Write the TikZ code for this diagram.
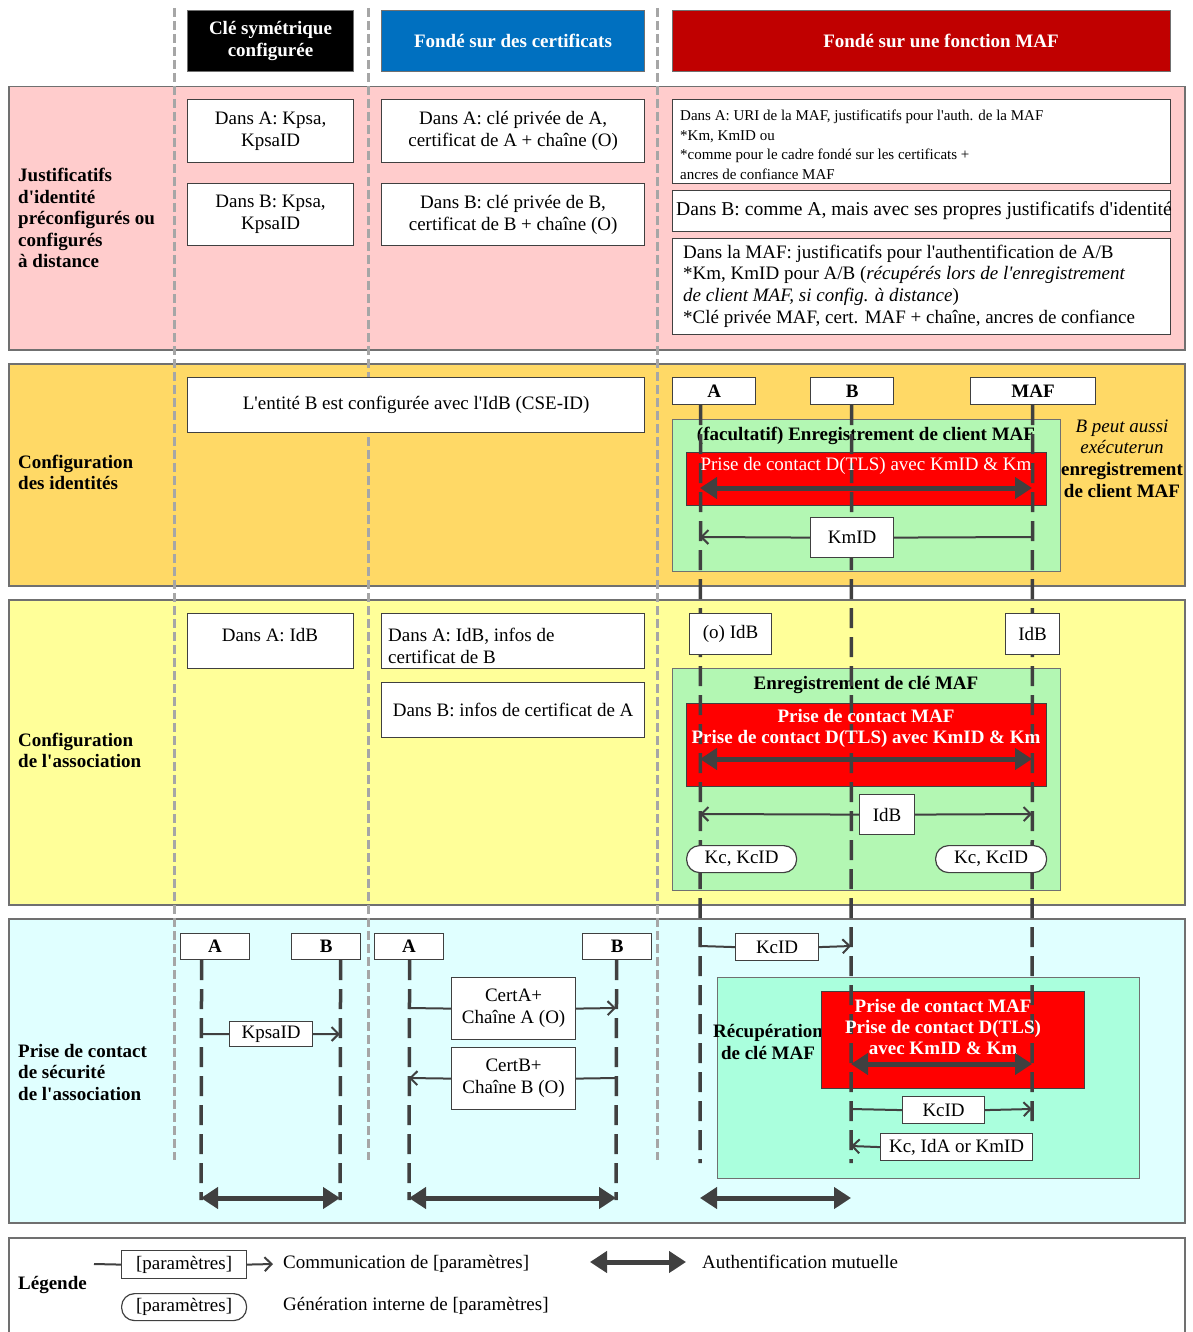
\documentclass[tikz,border=0pt]{standalone}
\usepackage{fontspec}
\setmainfont{Liberation Serif}[Ligatures=TeXOff]
\usetikzlibrary{arrows.meta}

\newcommand{\bodyfont}{\fontsize{19}{22}\selectfont}
\newcommand{\smallbody}{\fontsize{15}{19.5}\selectfont}
\newcommand{\labelfont}{\fontsize{19}{21.5}\selectfont}

\definecolor{pinkbg}{HTML}{FFCCCC}
\definecolor{orangebg}{HTML}{FFD966}
\definecolor{yellowbg}{HTML}{FFFF99}
\definecolor{cyanbg}{HTML}{E0FFFF}
\definecolor{greenA}{HTML}{B3F7B3}
\definecolor{greenB}{HTML}{AAFFDD}
\definecolor{hdrred}{HTML}{C00000}
\definecolor{hdrblue}{HTML}{0070C0}
\definecolor{msgred}{HTML}{FF0000}
\definecolor{ink}{HTML}{404040}
\definecolor{sepgray}{HTML}{A6A6A6}
\definecolor{edge}{HTML}{707070}

% box given by its top-left and bottom-right corners
\newcommand{\placebox}[7]{%
  \node[#6, anchor=north west, inner sep=0pt,
        minimum width={(#4-#2)*1pt}, minimum height={(#5-#3)*1pt}] (#1) at (#2,#3) {#7};}

\tikzset{
  every node/.style={font=\bodyfont},
  section/.style={draw=edge, line width=1.5pt},
  hdr/.style={draw=edge, line width=1pt, text=white, font=\bodyfont\bfseries, align=center},
  hdrtext/.style={text=white, font=\bodyfont\bfseries, inner sep=0pt},
  wbox/.style={draw=ink, line width=1.2pt, fill=white, align=center},
  headbox/.style={wbox, font=\bodyfont\bfseries},
  roundbox/.style={wbox, rounded corners=13pt},
  greenbox/.style={draw=edge, line width=1.2pt},
  redbox/.style={draw=ink, line width=1.2pt, fill=msgred},
  seclabel/.style={anchor=west, align=left, font=\labelfont\bfseries, inner sep=0pt},
  boxtitle/.style={font=\bodyfont\bfseries, inner sep=0pt},
  redtext/.style={text=white, align=center, inner sep=0pt},
  note/.style={anchor=west, align=left, inner sep=0pt},
  sep/.style={draw=sepgray, line width=3pt, dash pattern=on 9pt off 4pt},
  life/.style={draw=ink, line width=3.5pt, dash pattern=on 20pt off 9pt},
  msgline/.style={draw=ink, line width=2pt},
  msg/.style={msgline, -{Straight Barb[length=7pt,width=14pt]}},
  mutual/.style={draw=ink, line width=5pt,
     {Triangle[length=17pt,width=21pt]}-{Triangle[length=17pt,width=21pt]}},
}

\begin{document}
\begin{tikzpicture}[x=1pt,y=-1pt]
\useasboundingbox (0,0) rectangle (1192,1332);

% ---------- row bands ----------
\placebox{secCred}{8}{86}{1184}{349}{section, fill=pinkbg}{}
\placebox{secIdent}{8}{363}{1184}{585}{section, fill=orangebg}{}
\placebox{secAssoc}{8}{599}{1184}{904}{section, fill=yellowbg}{}
\placebox{secHand}{8}{918}{1184}{1222}{section, fill=cyanbg}{}
\placebox{secLegend}{8}{1237}{1184}{1345}{section, fill=white}{}

% ---------- column separators ----------
\foreach \x in {174,368,657}{\draw[sep] (\x,8) -- (\x,1160);}

% ---------- column headers ----------
\placebox{hSym}{187}{10}{353}{71}{hdr, fill=black}{Clé symétrique\\configurée}
\placebox{hCert}{381}{10}{644}{71}{hdr, fill=hdrblue}{Fondé sur des certificats}
\placebox{hMaf}{672}{10}{1170}{71}{hdr, fill=hdrred}{}
\node[hdrtext] (hMafLbl) at (941,41) {Fondé sur une fonction MAF};

% ---------- row labels ----------
\node[seclabel] (lCred) at (18,218) {Justificatifs\\d'identité\\préconfigurés ou\\configurés\\à distance};
\node[seclabel] (lIdent) at (18,472.5) {Configuration\\des identités};
\node[seclabel] (lAssoc) at (18,750.5) {Configuration\\de l'association};
\node[seclabel] (lHand) at (18,1072) {Prise de contact\\de sécurité\\de l'association};
\node[seclabel] (lLeg) at (18,1285) {Légende};

% ---------- credentials ----------
\placebox{credSymA}{187}{99}{353}{162}{wbox}{Dans A: Kpsa,\\KpsaID}
\placebox{credSymB}{187}{183}{353}{245}{wbox}{Dans B: Kpsa,\\KpsaID}
\placebox{credCertA}{381}{99}{644}{162}{wbox}{Dans A: clé privée de A,\\certificat de A + chaîne (O)}
\placebox{credCertB}{381}{183}{644}{245}{wbox}{Dans B: clé privée de B,\\certificat de B + chaîne (O)}
\placebox{credMafA}{672}{99}{1170}{183}{wbox}{}
\node[note, font=\smallbody] (credMafAtxt) at (680,145) {Dans A: URI de la MAF, justificatifs pour l'auth. de la MAF\\{}*Km, KmID ou\\{}*comme pour le cadre fondé sur les certificats +\\ancres de confiance MAF};
\placebox{credMafB}{672}{190}{1170}{231}{wbox}{}
\node[note, font=\fontsize{19.6}{22}\selectfont] (credMafBtxt) at (676,210.5) {Dans B: comme A, mais avec ses propres justificatifs d'identité};
\placebox{credMafM}{672}{238}{1170}{334}{wbox}{}
\node[note, font=\fontsize{19}{21.7}\selectfont] (credMafMtxt) at (683,286) {Dans la MAF: justificatifs pour l'authentification de A/B\\{}*Km, KmID pour A/B (\textit{récupérés lors de l'enregistrement}\\\textit{de client MAF, si config. à distance})\\{}*Clé privée MAF, cert. MAF + chaîne, ancres de confiance};

% ---------- identity configuration ----------
\placebox{identB}{187}{377}{644}{432}{wbox}{L'entité B est configurée avec l'IdB (CSE-ID)}
\node[align=center, inner sep=0pt, font=\fontsize{19}{21.7}\selectfont] (identNote) at (1122,458.5)
  {\textit{B peut aussi}\\\textit{exécuterun}\\\textbf{enregistrement}\\\textbf{de client MAF}};

% ---------- association configuration ----------
\placebox{assocSym}{187}{613}{353}{668}{wbox}{}
\node[inner sep=0pt] (assocSymTxt) at (270,635) {Dans A: IdB};
\placebox{assocCertA}{381}{613}{644}{668}{wbox}{}
\node[note] (assocCertAtxt) at (388,645.5) {Dans A: IdB, infos de\\certificat de B};
\placebox{assocCertB}{381}{682}{644}{737}{wbox}{Dans B: infos de certificat de A}

% ---------- MAF column: grouped exchanges ----------
\placebox{regClient}{672}{419}{1060}{571}{greenbox, fill=greenA}{}
\node[boxtitle] (regClientT) at (866,436) {(facultatif) Enregistrement de client MAF};
\placebox{regClientTLS}{686}{452}{1046}{505}{redbox}{}

\placebox{regKey}{672}{668}{1060}{890}{greenbox, fill=greenA}{}
\node[boxtitle] (regKeyT) at (866,685) {Enregistrement de clé MAF};
\placebox{regKeyTLS}{686}{703}{1046}{786}{redbox}{}

\placebox{keyRet}{717}{977}{1139}{1178}{greenbox, fill=greenB}{}
\node[boxtitle, align=center] (keyRetT) at (768,1042) {Récupération\\de clé MAF};
\placebox{keyRetTLS}{821}{991}{1084}{1088}{redbox}{}

% ---------- lifeline heads ----------
\placebox{hA}{672}{377}{755}{404}{headbox}{A}
\placebox{hB}{810}{377}{893}{404}{headbox}{B}
\placebox{hM}{970}{377}{1095}{404}{headbox}{MAF}
\placebox{sA}{180}{933}{249}{959}{headbox}{A}
\placebox{sB}{291}{933}{360}{959}{headbox}{B}
\placebox{cA}{374}{933}{443}{959}{headbox}{A}
\placebox{cB}{582}{933}{651}{959}{headbox}{B}

% ---------- lifelines ----------
\coordinate (aEnd) at (700,1163);
\coordinate (bEnd) at (851,1163);
\coordinate (mEnd) at (1032,1121);
\coordinate (sAend) at (201,1200);
\coordinate (sBend) at (340,1200);
\coordinate (cAend) at (409,1200);
\coordinate (cBend) at (616,1200);
\draw[life] ([xshift=-13.5pt]hA.south) -- (aEnd);
\draw[life] ([xshift=-0.5pt]hB.south) -- (bEnd);
\draw[life] ([xshift=-0.5pt]hM.south) -- (mEnd);
\draw[life] ([xshift=-13.5pt]sA.south) -- (sAend);
\draw[life] ([xshift=14.5pt]sB.south) -- (sBend);
\draw[life] ([xshift=0.5pt]cA.south) -- (cAend);
\draw[life] ([xshift=-0.5pt]cB.south) -- (cBend);

% ---------- handshake texts and mutual authentication ----------
\node[redtext] (regClientTLSt) at (866,466) {Prise de contact D(TLS) avec KmID \& Km};
\coordinate (m1a) at (700,488); \coordinate (m1m) at (1032,488);
\draw[mutual] (m1a) -- (m1m);

\node[redtext, font=\fontsize{19}{21}\selectfont\bfseries] (regKeyTLSt) at (866,728) {Prise de contact MAF\\Prise de contact D(TLS) avec KmID \& Km};
\coordinate (m2a) at (700,759); \coordinate (m2m) at (1032,759);
\draw[mutual] (m2a) -- (m2m);

\node[redtext, font=\fontsize{19}{21}\selectfont\bfseries] (keyRetTLSt) at (943,1027) {Prise de contact MAF\\Prise de contact D(TLS)\\avec KmID \& Km};
\coordinate (m3b) at (851,1064); \coordinate (m3m) at (1032,1064);
\draw[mutual] (m3b) -- (m3m);

\coordinate (m4a) at (201,1198); \coordinate (m4b) at (340,1198);
\draw[mutual] (m4a) -- (m4b);
\coordinate (m5a) at (409,1198); \coordinate (m5b) at (616,1198);
\draw[mutual] (m5a) -- (m5b);
\coordinate (m6a) at (700,1198); \coordinate (m6b) at (851,1198);
\draw[mutual] (m6a) -- (m6b);

% ---------- messages ----------
\placebox{kmid}{810}{517}{893}{557}{wbox}{KmID}
\coordinate (kmidM) at (1032,537); \coordinate (kmidA) at (700,537);
\draw[msgline] (kmidM) -- (kmid.east);
\draw[msg] (kmid.west) -- (kmidA);

\placebox{idbA}{689}{613}{771}{654}{wbox}{(o) IdB}
\placebox{idbM}{1005}{613}{1059}{654}{wbox}{IdB}

\placebox{idbMsg}{859}{794}{914}{834}{wbox}{IdB}
\coordinate (idbToA) at (700,814); \coordinate (idbToM) at (1032,814);
\draw[msg] (idbMsg.west) -- (idbToA);
\draw[msg] (idbMsg.east) -- (idbToM);

\placebox{kcA}{686}{845}{796}{872}{roundbox}{Kc, KcID}
\placebox{kcM}{935}{845}{1046}{872}{roundbox}{Kc, KcID}

\placebox{kpsaid}{229}{1021}{312}{1046}{wbox}{KpsaID}
\coordinate (kpsaA) at (201,1034); \coordinate (kpsaB) at (340,1034);
\draw[msgline] (kpsaA) -- (kpsaid.west);
\draw[msg] (kpsaid.east) -- (kpsaB);

\placebox{certAmsg}{451}{977}{575}{1039}{wbox}{CertA+\\Chaîne A (O)}
\coordinate (certAfrom) at (409,1008); \coordinate (certAto) at (616,1008);
\draw[msgline] (certAfrom) -- (certAmsg.west);
\draw[msg] (certAmsg.east) -- (certAto);

\placebox{certBmsg}{451}{1047}{575}{1109}{wbox}{CertB+\\Chaîne B (O)}
\coordinate (certBfrom) at (616,1078); \coordinate (certBto) at (409,1078);
\draw[msgline] (certBfrom) -- (certBmsg.east);
\draw[msg] (certBmsg.west) -- (certBto);

\placebox{kcid1}{735}{933}{818}{960}{wbox}{KcID}
\coordinate (kcid1a) at (700,946); \coordinate (kcid1b) at (851,946);
\draw[msgline] (kcid1a) -- (kcid1.west);
\draw[msg] (kcid1.east) -- (kcid1b);

\placebox{kcid2}{902}{1096}{984}{1123}{wbox}{KcID}
\coordinate (kcid2b) at (851,1109); \coordinate (kcid2m) at (1032,1109);
\draw[msgline] (kcid2b) -- (kcid2.west);
\draw[msg] (kcid2.east) -- (kcid2m);

\placebox{kcIda}{880}{1133}{1032}{1160}{wbox}{Kc, IdA or KmID}
\coordinate (kcIdaB) at (851,1146);
\draw[msg] (kcIda.west) -- (kcIdaB);

% ---------- legend ----------
\placebox{legParam}{121}{1250}{246}{1278}{wbox}{[paramètres]}
\coordinate (legIn) at (94,1264); \coordinate (legOut) at (273,1264);
\draw[msgline] (legIn) -- (legParam.west);
\draw[msg] (legParam.east) -- (legOut);
\node[note] (legComm) at (283,1264) {Communication de [paramètres]};
\coordinate (legMa) at (590,1262); \coordinate (legMb) at (686,1262);
\draw[mutual] (legMa) -- (legMb);
\node[note] (legMut) at (702,1262) {Authentification mutuelle};
\placebox{legGen}{121}{1293}{246}{1320}{roundbox}{[paramètres]}
\node[note] (legGenT) at (283,1306) {Génération interne de [paramètres]};

\end{tikzpicture}
\end{document}
